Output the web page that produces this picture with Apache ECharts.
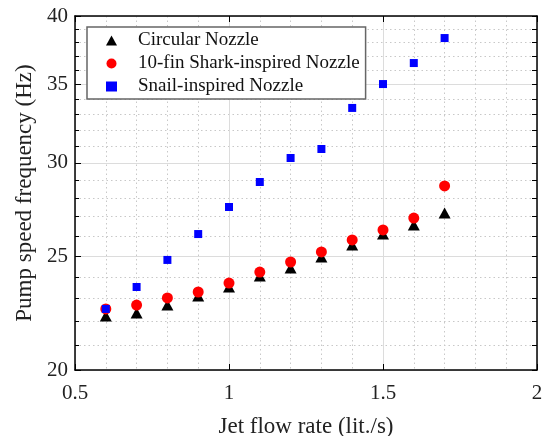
<!DOCTYPE html>
<html><head><meta charset="utf-8">
<script src="https://cdn.jsdelivr.net/npm/echarts@6/dist/echarts.min.js"></script>
<style>html,body{margin:0;padding:0;background:#fff}#c{width:542px;height:436px}</style>
</head><body><div id="c"></div>
<script>
const flowRate = [0.6, 0.7, 0.8, 0.9, 1.0, 1.1, 1.2, 1.3, 1.4, 1.5, 1.6, 1.7];
const circular = [22.23, 22.36, 22.71, 23.12, 23.53, 24.04, 24.42, 24.95, 25.55, 26.10, 26.57, 27.2];
const shark = [22.54, 22.71, 23.03, 23.30, 23.71, 24.23, 24.71, 25.20, 25.80, 26.31, 26.93, 28.68];
const snail = [22.54, 23.53, 24.81, 26.10, 27.52, 28.90, 30.29, 30.83, 33.41, 35.01, 36.48, 38.31];
const yMajorTicks = [20, 25, 30, 35, 40];
const yMinorTicks = [21, 22, 23, 24, 26, 27, 28, 29, 31, 32, 33, 34, 36, 37, 38, 39];
const yAllTicks = [20,21,22,23,24,25,26,27,28,29,30,31,32,33,34,35,36,37,38,39,40];
const names = ['Circular Nozzle', '10-fin Shark-inspired Nozzle', 'Snail-inspired Nozzle'];

const FONT = 'Liberation Serif';
const pair = (ys) => flowRate.map((x, i) => [x, ys[i]]);

const chart = echarts.init(document.getElementById('c'), null, {renderer: 'canvas'});
chart.setOption({
  animation: false,
  backgroundColor: '#fff',
  textStyle: {fontFamily: FONT},
  grid: {left: 75, top: 16, right: 5, bottom: 66, containLabel: false, outerBoundsMode: 'none'},
  legend: {
    orient: 'vertical', left: 87, top: 27,
    borderColor: '#666', borderWidth: 1.5, backgroundColor: '#fff',
    padding: [4, 6, 3, 19], itemGap: 4, itemWidth: 11, itemHeight: 10,
    textStyle: {fontFamily: FONT, fontSize: 19, lineHeight: 19, color: '#111', padding: [0, 0, 0, 16]},
    data: [
      {name: names[0], icon: 'triangle'},
      {name: names[1], icon: 'circle'},
      {name: names[2], icon: 'rect'}
    ]
  },
  xAxis: [{
    type: 'value', min: 0.5, max: 2, interval: 0.5, position: 'bottom',
    axisLine: {show: true, lineStyle: {color: '#000', width: 1.5}},
    axisTick: {show: true, inside: true, length: 6, lineStyle: {color: '#000'}},
    axisLabel: {fontFamily: FONT, fontSize: 21, color: '#222', margin: 13},
    name: 'Jet flow rate (lit./s)', nameLocation: 'middle', nameGap: 45,
    nameTextStyle: {fontFamily: FONT, fontSize: 23, color: '#222'},
    splitLine: {show: true, lineStyle: {color: '#dcdcdc', width: 1}},
    minorTick: {show: false, splitNumber: 5},
    minorSplitLine: {show: true, lineStyle: {color: '#c8c8c8', type: [1.5, 3], width: 1}}
  }, {
    type: 'value', min: 0.5, max: 2, interval: 0.5, position: 'top',
    axisLine: {show: true, lineStyle: {color: '#000', width: 1.5}},
    axisTick: {show: true, inside: true, length: 6, lineStyle: {color: '#000'}},
    axisLabel: {show: false}, splitLine: {show: false}
  }],
  yAxis: [{
    type: 'log', min: 20, max: 40, position: 'left',
    axisLine: {show: true, lineStyle: {color: '#000', width: 1.5}},
    axisTick: {show: true, inside: true, length: 4, customValues: yMinorTicks, lineStyle: {color: '#000'}},
    axisLabel: {show: false},
    splitLine: {show: true, lineStyle: {color: '#c8c8c8', type: [1.5, 3], width: 1}}
  }, {
    type: 'log', min: 20, max: 40, position: 'left',
    axisLine: {show: false},
    axisTick: {show: true, inside: true, length: 6, customValues: yMajorTicks, lineStyle: {color: '#000'}},
    axisLabel: {show: true, customValues: yMajorTicks, fontFamily: FONT, fontSize: 21, color: '#222', margin: 7},
    name: 'Pump speed frequency (Hz)', nameLocation: 'middle', nameGap: 39,
    nameTextStyle: {fontFamily: FONT, fontSize: 23, color: '#222'},
    splitLine: {show: true, lineStyle: {color: '#dcdcdc', width: 1}}
  }, {
    type: 'log', min: 20, max: 40, position: 'right',
    axisLine: {show: true, lineStyle: {color: '#000', width: 1.5}},
    axisTick: {show: true, inside: true, length: 5, customValues: yAllTicks, lineStyle: {color: '#000'}},
    axisLabel: {show: false}, splitLine: {show: false}
  }],
  series: [
    {name: names[0], type: 'scatter', xAxisIndex: 0, yAxisIndex: 1, symbol: 'triangle', symbolSize: [12, 11],
     itemStyle: {color: '#000', opacity: 1}, data: pair(circular), z: 3},
    {name: names[1], type: 'scatter', xAxisIndex: 0, yAxisIndex: 1, symbol: 'circle', symbolSize: 11,
     itemStyle: {color: '#ff0000', opacity: 1}, data: pair(shark), z: 4},
    {name: names[2], type: 'scatter', xAxisIndex: 0, yAxisIndex: 1, symbol: 'rect', symbolSize: 8,
     itemStyle: {color: '#0000ff', opacity: 1}, data: pair(snail), z: 5}
  ]
});
</script></body></html>
